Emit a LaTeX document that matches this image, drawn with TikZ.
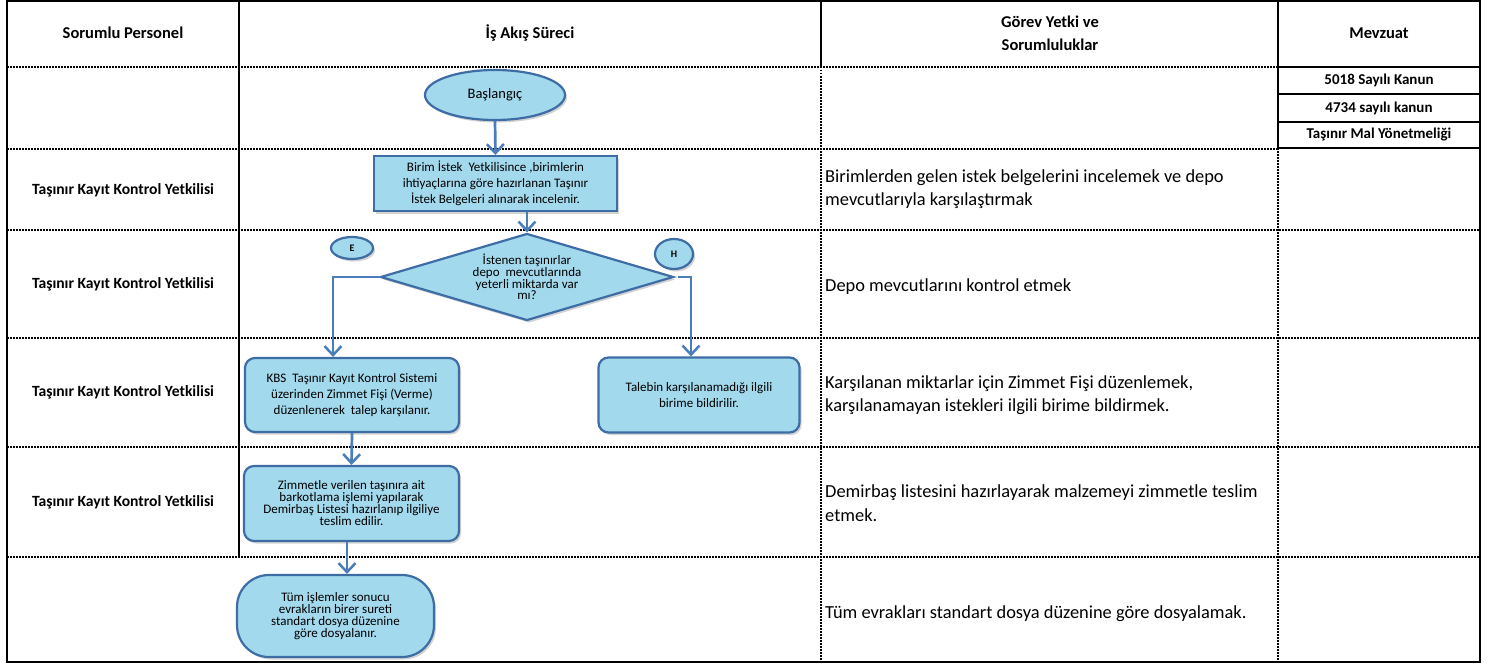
\documentclass[tikz,border=0pt]{standalone}
\usepackage{fontspec}
\setmainfont{Carlito}
\usetikzlibrary{shapes.geometric,arrows.meta,shadows}
\definecolor{shapefill}{HTML}{A3D9EC}
\definecolor{shapeline}{HTML}{3E6DA6}
\definecolor{arrowblue}{HTML}{4A7EBB}
\begin{document}
\begin{tikzpicture}[x=1pt,y=-1pt,
  solidline/.style={line width=2.4pt, draw=black, line cap=rect},
  dotline/.style={line width=1.5pt, draw=black, dash pattern=on 1.5pt off 1.5pt},
  hdr/.style={font=\bfseries\fontsize{16.5}{23}\selectfont, align=center, inner sep=0pt},
  rowlabel/.style={font=\bfseries\fontsize{15.6}{19}\selectfont, inner sep=0pt},
  lawcell/.style={font=\bfseries\fontsize{15}{18}\selectfont, inner sep=0pt},
  duty/.style={font=\fontsize{18.4}{23.5}\selectfont, anchor=west, align=left, inner sep=0pt},
  flowshape/.style={fill=shapefill, draw=shapeline, line width=2.2pt,
    drop shadow={opacity=0.35, shadow xshift=2pt, shadow yshift=-2.5pt},
    align=center, inner sep=0pt, font=\fontsize{13}{16}\selectfont},
  flowarrow/.style={draw=arrowblue, line width=2.7pt,
    -{Straight Barb[length=9pt, width=17pt, line width=2.5pt]}}
]
\useasboundingbox (0,0) rectangle (1507,669);
\fill[white] (0,0) rectangle (1507,669);

% ---------- table grid ----------
\draw[dotline] (7,67) -- (1278,67);
\draw[dotline] (7,149) -- (1278,149);
\foreach \yy in {230,338,447,557} {\draw[dotline] (7,\yy) -- (1480,\yy);}
\draw[dotline] (821,67) -- (821,662);
\draw[dotline] (1278,148) -- (1278,662);
\draw[solidline] (7,1) rectangle (1480,662);
\draw[solidline] (239,1) -- (239,557);
\draw[solidline] (821,1) -- (821,67);
\draw[solidline] (1278,1) -- (1278,148);
\draw[solidline] (1278,67) -- (1480,67);
\draw[solidline] (1278,94) -- (1480,94);
\draw[solidline] (1278,122) -- (1480,122);
\draw[solidline] (1278,148) -- (1480,148);

% ---------- headers ----------
\node[hdr] (h1) at (123,33) {Sorumlu Personel};
\node[hdr] (h2) at (530,33) {İş Akış Süreci};
\node[hdr] (h3) at (1050,33.5) {Görev Yetki ve\\Sorumluluklar};
\node[hdr] (h4) at (1379,33) {Mevzuat};

% ---------- law cells ----------
\node[lawcell] (m1) at (1379,80.5) {5018 Sayılı Kanun};
\node[lawcell] (m2) at (1379,108) {4734 sayılı kanun};
\node[lawcell] (m3) at (1379,135) {Taşınır Mal Yönetmeliği};

% ---------- row labels ----------
\node[rowlabel] (r2) at (123,190) {Taşınır Kayıt Kontrol Yetkilisi};
\node[rowlabel] (r3) at (123,284) {Taşınır Kayıt Kontrol Yetkilisi};
\node[rowlabel] (r4) at (123,392) {Taşınır Kayıt Kontrol Yetkilisi};
\node[rowlabel] (r5) at (123,502) {Taşınır Kayıt Kontrol Yetkilisi};

% ---------- duties ----------
\node[duty] (d2) at (825,189) {Birimlerden gelen istek belgelerini incelemek ve depo\\mevcutlarıyla karşılaştırmak};
\node[duty] (d3) at (825,287) {Depo mevcutlarını kontrol etmek};
\node[duty] (d4) at (825,395) {Karşılanan miktarlar için Zimmet Fişi düzenlemek,\\karşılanamayan istekleri ilgili birime bildirmek.};
\node[duty] (d5) at (825,503) {Demirbaş listesini hazırlayarak malzemeyi zimmetle teslim\\etmek.};
\node[duty] (d6) at (825,614) {Tüm evrakları standart dosya düzenine göre dosyalamak.};

% ---------- flow ----------
\node[flowshape, ellipse, minimum width=140pt, minimum height=50pt, font=\fontsize{14.5}{17}\selectfont] (start) at (495,95) {Başlangıç};
\node[flowshape, rectangle, minimum width=243pt, minimum height=55pt] (birim) at (495.5,183.5)
  {Birim İstek\ \ Yetkilisince ,birimlerin\\ihtiyaçlarına göre hazırlanan Taşınır\\İstek Belgeleri alınarak incelenir.};
\node[flowshape, diamond, aspect=3.37, minimum width=293pt, minimum height=87pt, font=\fontsize{13}{11.7}\selectfont] (dec) at (527,277)
  {İstenen taşınırlar\\depo\ \ mevcutlarında\\yeterli miktarda var\\mı?};
\node[flowshape, ellipse, minimum width=42pt, minimum height=22pt, font=\bfseries\fontsize{10}{12}\selectfont] (e) at (352,248) {E};
\node[flowshape, ellipse, minimum width=38pt, minimum height=30pt, font=\bfseries\fontsize{10}{12}\selectfont] (h) at (674,254) {H};
\node[flowshape, rectangle, rounded corners=10pt, minimum width=214pt, minimum height=74pt] (kbs) at (352,395)
  {KBS\ \ Taşınır Kayıt Kontrol Sistemi\\üzerinden Zimmet Fişi (Verme)\\düzenlenerek\ \ talep karşılanır.};
\node[flowshape, rectangle, rounded corners=10pt, minimum width=201pt, minimum height=75pt] (tal) at (699,395)
  {Talebin karşılanamadığı ilgili\\birime bildirilir.};
\node[flowshape, rectangle, rounded corners=10pt, minimum width=215pt, minimum height=75pt, font=\fontsize{13}{12}\selectfont] (zim) at (351.5,503.5)
  {Zimmetle verilen taşınıra ait\\barkotlama işlemi yapılarak\\Demirbaş Listesi hazırlanıp ilgiliye\\teslim edilir.};
\node[flowshape, rectangle, rounded corners=32pt, minimum width=197pt, minimum height=82pt, font=\fontsize{13}{12}\selectfont] (tum) at (335.5,616)
  {Tüm işlemler sonucu\\evrakların birer sureti\\standart dosya düzenine\\göre dosyalanır.};

% ---------- connectors ----------
\coordinate (lcorner) at (333,277);
\coordinate (rcorner) at (691,277);
\coordinate (tumx) at (347,0);
\draw[flowarrow] (start.south) -- (birim.north);
\draw[flowarrow] (dec.north |- birim.south) -- (dec.north);
\draw[flowarrow] (dec.west) -- (lcorner) -- (lcorner |- kbs.north);
\draw[flowarrow] ([xshift=3pt]dec.east) -- (rcorner) -- (rcorner |- tal.north);
\draw[flowarrow] (kbs.south) -- (zim.north);
\draw[flowarrow] (zim.south -| tumx) -- (tum.north -| tumx);
\end{tikzpicture}
\end{document}
